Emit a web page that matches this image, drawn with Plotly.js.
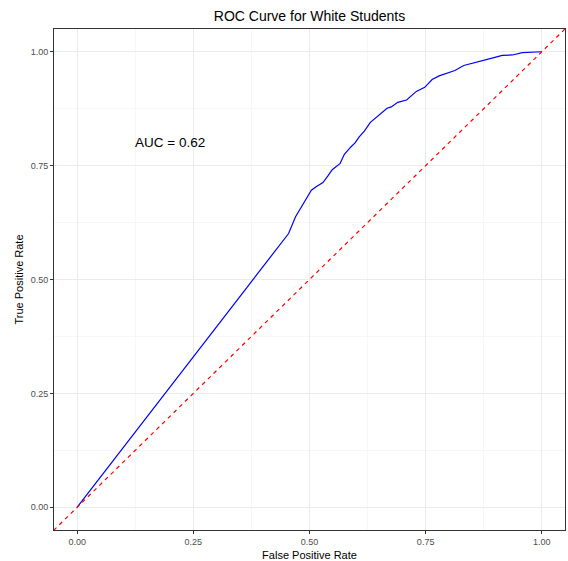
<!DOCTYPE html>
<html>
<head>
<meta charset="utf-8">
<script src="https://cdn.plot.ly/plotly-3.0.1.min.js"></script>
<style>html,body{margin:0;padding:0;background:#fff;}#chart{width:568px;height:561px;}</style>
</head>
<body>
<div id="chart"></div>
<script>
// ROC curve points (False Positive Rate, True Positive Rate)
const fpr = [0.000, 0.455, 0.470, 0.488, 0.504, 0.515, 0.529, 0.540, 0.549, 0.566, 0.575, 0.589, 0.598, 0.607, 0.618, 0.631, 0.647, 0.660, 0.667, 0.676, 0.690, 0.709, 0.720, 0.730, 0.748, 0.764, 0.779, 0.795, 0.813, 0.832, 0.853, 0.879, 0.897, 0.915, 0.937, 0.958, 0.980, 1.000];
const tpr = [0.000, 0.601, 0.638, 0.668, 0.696, 0.704, 0.713, 0.728, 0.741, 0.755, 0.775, 0.791, 0.800, 0.813, 0.826, 0.845, 0.859, 0.870, 0.876, 0.879, 0.889, 0.894, 0.905, 0.913, 0.922, 0.939, 0.947, 0.952, 0.959, 0.970, 0.976, 0.983, 0.987, 0.992, 0.993, 0.998, 0.999, 1.000];
// reference diagonal (chance line) endpoints
const diagX = [-0.1, 1.1];
const diagY = [-0.1, 1.1];
const tickVals = [0, 0.25, 0.5, 0.75, 1];
const tickText = ["0.00", "0.25", "0.50", "0.75", "1.00"];
const aucLabel = "AUC = 0.62";
const aucPos = {x: 0.2, y: 0.8};

const FONT = "Liberation Sans, Arial, Helvetica, sans-serif";

const axisCommon = {
  range: [-0.05, 1.05],
  tickmode: "array",
  tickvals: tickVals,
  ticktext: tickText,
  ticks: "outside",
  ticklen: 3,
  tickwidth: 1,
  tickcolor: "#333333",
  tickfont: {family: FONT, size: 9, color: "#4D4D4D"},
  showgrid: true,
  gridcolor: "#EBEBEB",
  gridwidth: 1,
  minor: {tickmode: "linear", tick0: 0.125, dtick: 0.25, showgrid: true, gridcolor: "#F2F2F2", gridwidth: 0.6, ticks: ""},
  zeroline: false,
  showline: true,
  linecolor: "#333333",
  linewidth: 1,
  mirror: true,
  automargin: false,
  fixedrange: true
};

const data = [
  {
    x: fpr, y: tpr, type: "scatter", mode: "lines",
    line: {color: "#0000FF", width: 1.2},
    hoverinfo: "skip", showlegend: false
  },
  {
    x: diagX, y: diagY, type: "scatter", mode: "lines",
    line: {color: "#FF0000", width: 1.2, dash: "4px,4px"},
    hoverinfo: "skip", showlegend: false
  }
];

const layout = {
  width: 568, height: 561,
  margin: {l: 54, r: 3, t: 29, b: 31},
  paper_bgcolor: "#FFFFFF",
  plot_bgcolor: "#FFFFFF",
  font: {family: FONT, color: "#000000"},
  title: {
    text: "ROC Curve for White Students",
    font: {family: FONT, size: 14, color: "#000000"},
    x: 0.5, xref: "paper", xanchor: "center",
    y: 1 - 16 / 561, yref: "container", yanchor: "middle"
  },
  xaxis: Object.assign({}, axisCommon, {
    title: {text: "False Positive Rate", font: {family: FONT, size: 11, color: "#000000"}, standoff: 5}
  }),
  yaxis: Object.assign({}, axisCommon, {
    title: {text: "True Positive Rate", font: {family: FONT, size: 11, color: "#000000"}, standoff: 4}
  }),
  annotations: [{
    x: aucPos.x, y: aucPos.y, xref: "x", yref: "y",
    text: aucLabel, showarrow: false,
    font: {family: FONT, size: 13.5, color: "#000000"},
    xanchor: "center", yanchor: "middle"
  }]
};

Plotly.newPlot("chart", data, layout, {displayModeBar: false, staticPlot: true});
</script>
</body>
</html>
